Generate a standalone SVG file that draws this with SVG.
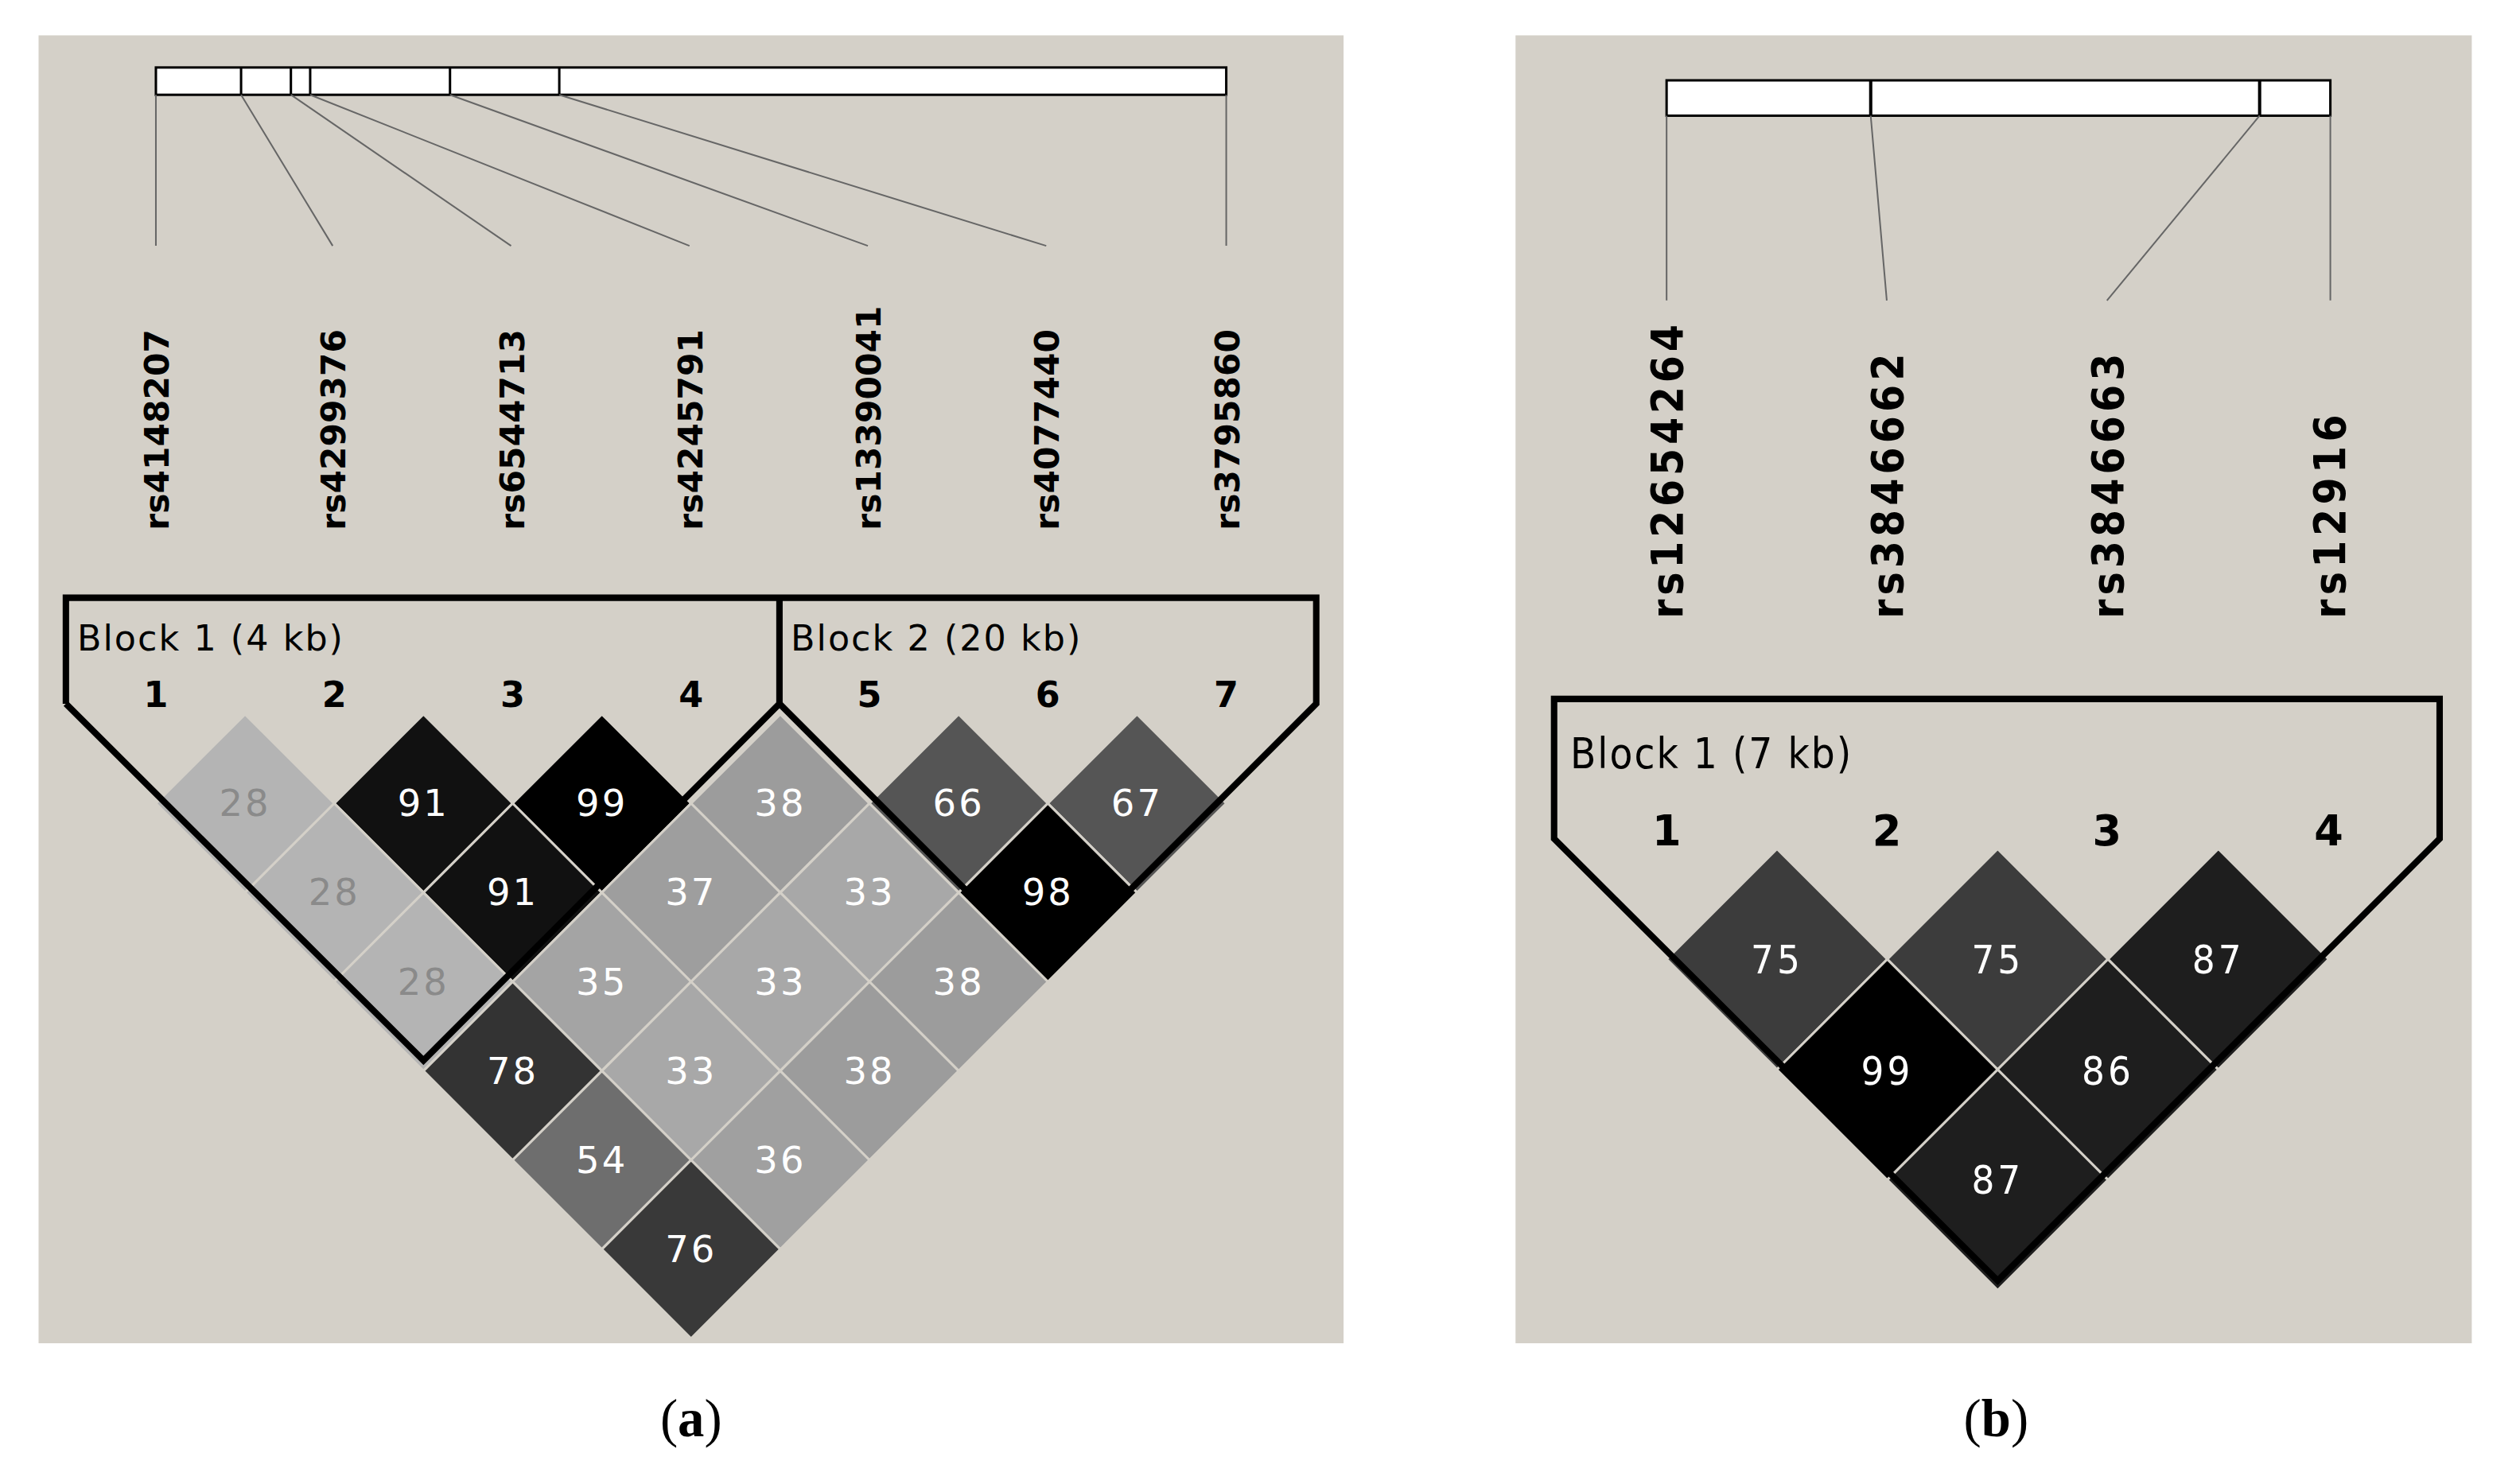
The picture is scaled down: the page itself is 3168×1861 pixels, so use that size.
<svg xmlns="http://www.w3.org/2000/svg" width="3168" height="1861" viewBox="0 0 3168 1861">
<style>
.bg{fill:#d4d0c8}
.bar{fill:#fff;stroke:#000;stroke-width:1.5}
.lnk{stroke:#666;stroke-width:1;fill:none}
.lab{font-family:"DejaVu Sans",sans-serif;font-weight:bold;font-size:21px;fill:#000}
.labb{font-family:"DejaVu Sans Condensed","DejaVu Sans",sans-serif;font-weight:bold;font-size:27px;fill:#000}
.num{font-family:"DejaVu Sans",sans-serif;font-weight:bold;font-size:22px;fill:#000;text-anchor:middle}
.blk{font-family:"DejaVu Sans",sans-serif;font-size:22px;fill:#000;letter-spacing:1px}
.val{font-family:"DejaVu Sans",sans-serif;font-size:23px;fill:#fff;text-anchor:middle;letter-spacing:1.5px}
.valb{font-family:"DejaVu Sans Condensed","DejaVu Sans",sans-serif;font-size:25px;fill:#fff;text-anchor:middle;letter-spacing:2px}
.out{fill:none;stroke:#000;stroke-width:4;stroke-linejoin:miter}
.cell{stroke:#d4d0c8;stroke-width:1.5}
.cap{font-family:"Liberation Serif",serif;font-size:33px;fill:#000;text-anchor:middle}
</style>
<defs>
<path id="da" d="M0,-55.5 L55.5,0 0,55.5 -55.5,0Z"/>
<path id="db" d="M0,-68.67 L68.67,0 0,68.67 -68.67,0Z"/>
</defs>
<rect width="3168" height="1861" fill="#fff"/>
<g transform="scale(2.0204)">
<g id="panel-a">
<rect class="bg" x="24" y="22" width="812" height="814"/>
<g id="a-bar">
<rect class="bar" x="97" y="42" width="666" height="17"/>
<path d="M150,42V59M181,42V59M193,42V59M280,42V59M348,42V59" stroke="#000" stroke-width="1.5"/>
</g>
<g id="a-connectors">
<path class="lnk" d="M97,59L97,153M150,59L207,153M181,59L318,153M193,59L429,153M280,59L540,153M348,59L651,153M763,59L763,153"/>
</g>
<g id="a-labels">
<text class="lab" transform="translate(105,330) rotate(-90)">rs4148207</text>
<text class="lab" transform="translate(215,330) rotate(-90)">rs4299376</text>
<text class="lab" transform="translate(326,330) rotate(-90)">rs6544713</text>
<text class="lab" transform="translate(437,330) rotate(-90)">rs4245791</text>
<text class="lab" transform="translate(548,330) rotate(-90)">rs13390041</text>
<text class="lab" transform="translate(659,330) rotate(-90)">rs4077440</text>
<text class="lab" transform="translate(771,330) rotate(-90)">rs3795860</text>
</g>
<g id="a-cells">
<use href="#da" class="cell" fill="#b4b4b4" x="152.5" y="500"/>
<use href="#da" class="cell" fill="#111" x="263.5" y="500"/>
<use href="#da" class="cell" fill="#000" x="374.5" y="500"/>
<use href="#da" class="cell" fill="#9c9c9c" x="485.5" y="500"/>
<use href="#da" class="cell" fill="#555" x="596.5" y="500"/>
<use href="#da" class="cell" fill="#555" x="707.5" y="500"/>
<use href="#da" class="cell" fill="#b4b4b4" x="208" y="555.5"/>
<use href="#da" class="cell" fill="#111" x="319" y="555.5"/>
<use href="#da" class="cell" fill="#9e9e9e" x="430" y="555.5"/>
<use href="#da" class="cell" fill="#a8a8a8" x="541" y="555.5"/>
<use href="#da" class="cell" fill="#000" x="652" y="555.5"/>
<use href="#da" class="cell" fill="#b4b4b4" x="263.5" y="611"/>
<use href="#da" class="cell" fill="#a4a4a4" x="374.5" y="611"/>
<use href="#da" class="cell" fill="#a8a8a8" x="485.5" y="611"/>
<use href="#da" class="cell" fill="#9c9c9c" x="596.5" y="611"/>
<use href="#da" class="cell" fill="#333" x="319" y="666.5"/>
<use href="#da" class="cell" fill="#a8a8a8" x="430" y="666.5"/>
<use href="#da" class="cell" fill="#9c9c9c" x="541" y="666.5"/>
<use href="#da" class="cell" fill="#6e6e6e" x="374.5" y="722"/>
<use href="#da" class="cell" fill="#a0a0a0" x="485.5" y="722"/>
<use href="#da" class="cell" fill="#393939" x="430" y="777.5"/>
<text class="val" fill="#888" style="fill:#8a8a8a" x="152.5" y="508">28</text>
<text class="val" x="263.5" y="508">91</text>
<text class="val" x="374.5" y="508">99</text>
<text class="val" x="485.5" y="508">38</text>
<text class="val" x="596.5" y="508">66</text>
<text class="val" x="707.5" y="508">67</text>
<text class="val" style="fill:#8a8a8a" x="208" y="563.5">28</text>
<text class="val" x="319" y="563.5">91</text>
<text class="val" x="430" y="563.5">37</text>
<text class="val" x="541" y="563.5">33</text>
<text class="val" x="652" y="563.5">98</text>
<text class="val" style="fill:#8a8a8a" x="263.5" y="619">28</text>
<text class="val" x="374.5" y="619">35</text>
<text class="val" x="485.5" y="619">33</text>
<text class="val" x="596.5" y="619">38</text>
<text class="val" x="319" y="674.5">78</text>
<text class="val" x="430" y="674.5">33</text>
<text class="val" x="541" y="674.5">38</text>
<text class="val" x="374.5" y="730">54</text>
<text class="val" x="485.5" y="730">36</text>
<text class="val" x="430" y="785.5">76</text>
</g>
<g id="a-blocks">
<path class="out" d="M41,438V372H819V438L652,605L485,438V372M41,438L263.5,660L485,438"/>
<text class="blk" x="48" y="405">Block 1 (4 kb)</text>
<text class="blk" x="492" y="405">Block 2 (20 kb)</text>
<text class="num" x="97" y="440">1</text>
<text class="num" x="208" y="440">2</text>
<text class="num" x="319" y="440">3</text>
<text class="num" x="430" y="440">4</text>
<text class="num" x="541" y="440">5</text>
<text class="num" x="652" y="440">6</text>
<text class="num" x="763" y="440">7</text>
</g>
<text class="cap" x="430" y="894">(<tspan font-weight="bold">a</tspan>)</text>
</g>
<g id="panel-b">
<rect class="bg" x="943" y="22" width="595" height="814"/>
<g id="b-bar">
<rect class="bar" x="1037" y="50" width="413" height="22" stroke-width="2"/>
<path d="M1164,50V72M1406,50V72" stroke="#000" stroke-width="2"/>
</g>
<g id="b-connectors">
<path class="lnk" stroke="#777" d="M1037,72L1037,187M1164,72L1174,187M1406,72L1311,187M1450,72L1450,187"/>
</g>
<g id="b-labels">
<text class="labb" textLength="183" transform="translate(1047,385) rotate(-90)">rs12654264</text>
<text class="labb" textLength="165" transform="translate(1184,385) rotate(-90)">rs3846662</text>
<text class="labb" textLength="165" transform="translate(1321,385) rotate(-90)">rs3846663</text>
<text class="labb" textLength="127" transform="translate(1459,385) rotate(-90)">rs12916</text>
</g>
<g id="b-cells">
<use href="#db" class="cell" fill="#3c3c3c" x="1105.7" y="597"/>
<use href="#db" class="cell" fill="#3c3c3c" x="1243" y="597"/>
<use href="#db" class="cell" fill="#1e1e1e" x="1380.3" y="597"/>
<use href="#db" class="cell" fill="#000" x="1174.3" y="665.7"/>
<use href="#db" class="cell" fill="#1e1e1e" x="1311.6" y="665.7"/>
<use href="#db" class="cell" fill="#1e1e1e" x="1243" y="734.3"/>
<text class="valb" x="1105.7" y="606">75</text>
<text class="valb" x="1243" y="606">75</text>
<text class="valb" x="1380.3" y="606">87</text>
<text class="valb" x="1174.3" y="675">99</text>
<text class="valb" x="1311.6" y="675">86</text>
<text class="valb" x="1243" y="743">87</text>
</g>
<g id="b-block">
<path class="out" d="M967,522V435H1518V522L1243,797Z"/>
<text class="blk" style="font-family:'DejaVu Sans Condensed','DejaVu Sans',sans-serif;font-size:26px" x="977" y="478">Block 1 (7 kb)</text>
<text class="num" style="font-size:26px" x="1037" y="526">1</text>
<text class="num" style="font-size:26px" x="1174" y="526">2</text>
<text class="num" style="font-size:26px" x="1311" y="526">3</text>
<text class="num" style="font-size:26px" x="1449" y="526">4</text>
</g>
<text class="cap" x="1242" y="894">(<tspan font-weight="bold">b</tspan>)</text>
</g>
</g>
</svg>
